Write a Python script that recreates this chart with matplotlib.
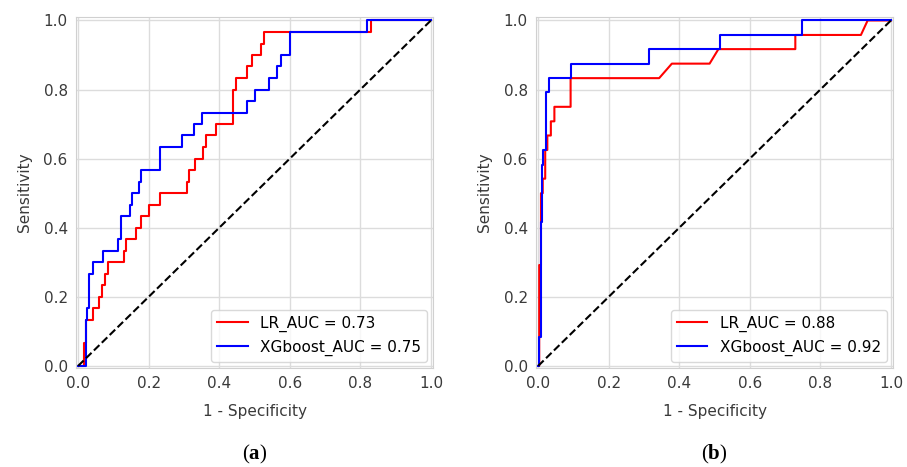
import matplotlib
matplotlib.use("Agg")
import matplotlib.pyplot as plt

# --- ROC data ---
# panel (a)
fpr_a_lr = [0, 0.016, 0.016, 0.022, 0.022, 0.041, 0.041, 0.060, 0.060, 0.068, 0.068, 0.076, 0.076,
            0.085, 0.085, 0.129, 0.129, 0.137, 0.137, 0.165, 0.165, 0.179, 0.179, 0.202, 0.202,
            0.231, 0.231, 0.308, 0.308, 0.314, 0.314, 0.332, 0.332, 0.355, 0.355, 0.363, 0.363,
            0.391, 0.391, 0.438, 0.438, 0.447, 0.447, 0.480, 0.480, 0.492, 0.492, 0.518, 0.518,
            0.527, 0.527, 0.829, 0.829, 1.0]
tpr_a_lr = [0, 0, 0.067, 0.067, 0.133, 0.133, 0.167, 0.167, 0.2, 0.2, 0.233, 0.233, 0.267,
            0.267, 0.3, 0.3, 0.333, 0.333, 0.367, 0.367, 0.4, 0.4, 0.433, 0.433, 0.467,
            0.467, 0.5, 0.5, 0.533, 0.533, 0.567, 0.567, 0.6, 0.6, 0.633, 0.633, 0.667,
            0.667, 0.7, 0.7, 0.8, 0.8, 0.833, 0.833, 0.867, 0.867, 0.9, 0.9, 0.933,
            0.933, 0.967, 0.967, 1.0, 1.0]
fpr_a_xgb = [0, 0.021, 0.021, 0.025, 0.025, 0.030, 0.030, 0.041, 0.041, 0.070, 0.070, 0.112, 0.112,
             0.121, 0.121, 0.146, 0.146, 0.153, 0.153, 0.172, 0.172, 0.177, 0.177, 0.231, 0.231,
             0.295, 0.295, 0.328, 0.328, 0.351, 0.351, 0.480, 0.480, 0.502, 0.502, 0.540, 0.540,
             0.565, 0.565, 0.574, 0.574, 0.600, 0.600, 0.819, 0.819, 1.0]
tpr_a_xgb = [0, 0, 0.133, 0.133, 0.167, 0.167, 0.267, 0.267, 0.3, 0.3, 0.333, 0.333, 0.367,
             0.367, 0.433, 0.433, 0.467, 0.467, 0.5, 0.5, 0.533, 0.533, 0.567, 0.567, 0.633,
             0.633, 0.667, 0.667, 0.7, 0.7, 0.733, 0.733, 0.767, 0.767, 0.8, 0.8, 0.833,
             0.833, 0.867, 0.867, 0.9, 0.9, 0.967, 0.967, 1.0, 1.0]

# panel (b)
fpr_b_lr = [0, 0.003, 0.003, 0.008, 0.008, 0.013, 0.013, 0.020, 0.020, 0.026, 0.026, 0.036, 0.036,
            0.046, 0.046, 0.092, 0.092, 0.343, 0.379, 0.486, 0.511, 0.729, 0.729, 0.915, 0.934, 1.0]
tpr_b_lr = [0, 0, 0.292, 0.292, 0.5, 0.5, 0.542, 0.542, 0.625, 0.625, 0.667, 0.667, 0.708,
            0.708, 0.75, 0.75, 0.833, 0.833, 0.875, 0.875, 0.917, 0.917, 0.958, 0.958, 1.0, 1.0]
fpr_b_xgb = [0, 0.003, 0.003, 0.009, 0.009, 0.011, 0.011, 0.015, 0.015, 0.021, 0.021, 0.030, 0.030,
             0.092, 0.092, 0.313, 0.313, 0.515, 0.515, 0.748, 0.748, 1.0]
tpr_b_xgb = [0, 0, 0.083, 0.083, 0.417, 0.417, 0.583, 0.583, 0.625, 0.625, 0.792, 0.792, 0.833,
             0.833, 0.875, 0.875, 0.917, 0.917, 0.958, 0.958, 1.0, 1.0]

auc_a = [0.73, 0.75]
auc_b = [0.88, 0.92]
ticks = [0.0, 0.2, 0.4, 0.6, 0.8, 1.0]

plt.rcParams['font.family'] = 'DejaVu Sans'
plt.rcParams['mathtext.fontset'] = 'custom'
plt.rcParams['mathtext.bf'] = 'Liberation Serif:bold'
plt.rcParams['mathtext.rm'] = 'Liberation Serif'

fig = plt.figure(figsize=(9.07, 4.67), dpi=100)
ax_a = fig.add_axes([0.0838, 0.212, 0.3936, 0.7516])
ax_b = fig.add_axes([0.5910, 0.212, 0.3936, 0.7516])

panels = [
    (ax_a, fpr_a_lr, tpr_a_lr, fpr_a_xgb, tpr_a_xgb, auc_a, 'a'),
    (ax_b, fpr_b_lr, tpr_b_lr, fpr_b_xgb, tpr_b_xgb, auc_b, 'b'),
]

for ax, fl, tl, fx, tx, auc, tag in panels:
    ax.plot(fl, tl, color='red', lw=1.5, label='LR_AUC = %.2f' % auc[0])
    ax.plot(fx, tx, color='blue', lw=1.5, label='XGboost_AUC = %.2f' % auc[1])
    ax.plot([0, 1], [0, 1], 'k--', lw=1.5)
    ax.set_xlim(-0.006, 1.006)
    ax.set_ylim(-0.006, 1.01)
    ax.set_xticks(ticks)
    ax.set_yticks(ticks)
    ax.grid(True, color='#dcdcdc', lw=1.0)
    ax.set_axisbelow(True)
    for s in ax.spines.values():
        s.set_color('#d0d0d0')
    ax.tick_params(length=0, labelsize=11, labelcolor='#3a3a3a', pad=6)
    ax.set_xlabel('1 - Specificity', fontsize=11, color='#3a3a3a', labelpad=9)
    ax.set_ylabel('Sensitivity', fontsize=11, color='#3a3a3a', labelpad=8)
    leg = ax.legend(loc='lower right', fontsize=11, frameon=True, borderaxespad=0.4)
    leg.get_frame().set_edgecolor('#d0d0d0')
    ax.text(0.5, -0.245, '(' + r'$\mathbf{' + tag + '}$' + ')', transform=ax.transAxes,
            ha='center', va='center', fontsize=15, family='Liberation Serif')

fig.savefig('out.png', dpi=100)
